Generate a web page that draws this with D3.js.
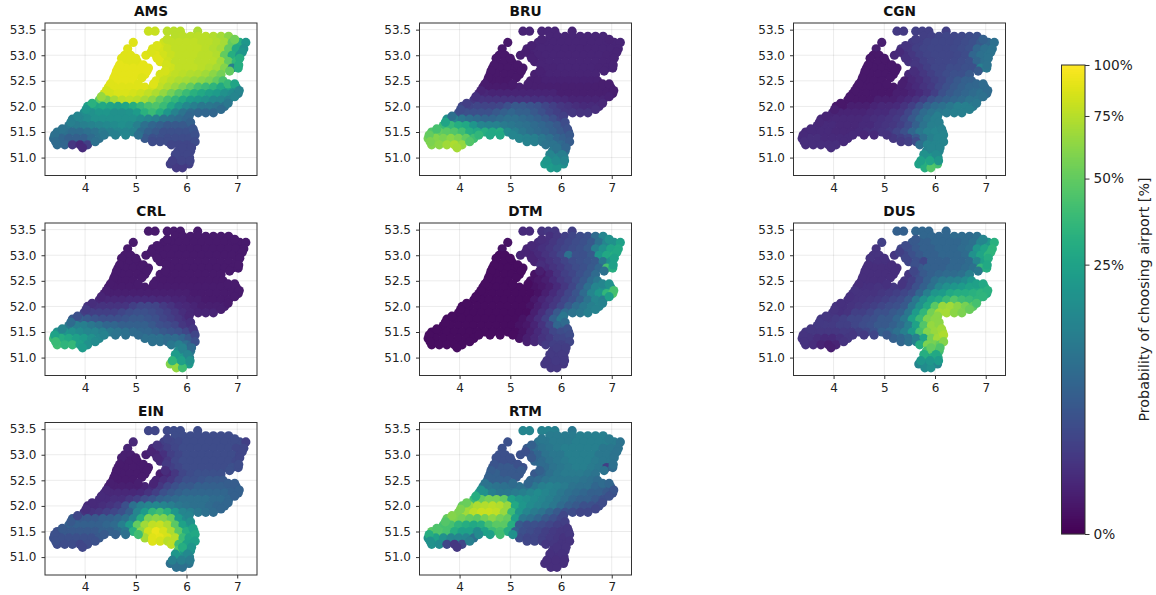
<!DOCTYPE html>
<html>
<head>
<meta charset="utf-8">
<script src="https://cdn.jsdelivr.net/npm/d3@7"></script>
<style>
  body { margin: 0; background: #fff; }
  text { font-family: "DejaVu Sans", sans-serif; }
</style>
</head>
<body>
<div id="chart"></div>
<script>
// values, one inner list per row of points (north to south)
// the last 20 rows are extra points along the coast and borders
var rowLats = [53.47,53.37,53.25,53.125,53.0,52.875,52.75,52.625,52.5,52.375,52.25,52.125,52.0,51.875,51.75,51.625,51.5,51.375,51.31,51.25,51.125,51.0,50.875,50.8,
  53.31,53.19,53.06,52.94,52.81,52.69,52.56,52.44,52.31,52.19,52.06,51.94,51.81,51.69,51.56,51.44,51.31,51.19,51.06,50.94];

var rowLons = [
  [5.25,5.38,5.62,5.75,5.88,6.22],
  [5.78,5.93,6.08,6.23,6.38,6.53,6.68,6.83],
  [4.95,5.55,5.7,5.85,6.0,6.15,6.3,6.45,6.6,6.75,6.9,7.05,7.17],
  [4.84,5.33,5.48,5.63,5.78,5.93,6.08,6.23,6.38,6.53,6.68,6.83,6.98,7.13],
  [4.78,4.9,5.2,5.4,5.55,5.7,5.85,6.0,6.15,6.3,6.45,6.6,6.75,6.9,7.05],
  [4.73,4.88,5.03,5.48,5.63,5.78,5.93,6.08,6.23,6.38,6.53,6.68,6.83,6.98],
  [4.65,4.8,4.95,5.1,5.25,5.7,5.85,6.0,6.15,6.3,6.45,6.6,6.75,6.9,7.02],
  [4.6,4.73,4.88,5.03,5.18,5.48,5.63,5.78,5.93,6.08,6.23,6.38,6.53,6.68],
  [4.55,4.65,4.8,4.95,5.4,5.55,5.7,5.85,6.0,6.15,6.3,6.45,6.6,6.72],
  [4.46,4.58,4.73,4.88,5.03,5.18,5.33,5.48,5.63,5.78,5.93,6.08,6.23,6.38,6.53,6.68,6.83,6.98],
  [4.38,4.5,4.65,4.8,4.95,5.1,5.25,5.4,5.55,5.7,5.85,6.0,6.15,6.3,6.45,6.6,6.75,6.9,7.02],
  [4.28,4.43,4.58,4.73,4.88,5.03,5.18,5.33,5.48,5.63,5.78,5.93,6.08,6.23,6.38,6.53,6.68,6.83],
  [4.05,4.2,4.35,4.5,4.65,4.8,4.95,5.1,5.25,5.4,5.55,5.7,5.85,6.0,6.15,6.3,6.45,6.6,6.75],
  [3.98,4.13,4.28,4.43,4.58,4.73,4.88,5.03,5.18,5.33,5.48,5.63,5.78,5.93,6.08,6.23,6.38,6.53],
  [3.75,3.9,4.05,4.2,4.35,4.5,4.65,4.8,4.95,5.1,5.25,5.4,5.55,5.7,5.85,6.0],
  [3.68,3.83,3.98,4.13,4.28,4.43,4.58,4.73,4.88,5.03,5.18,5.33,5.48,5.63,5.78,5.93,6.08],
  [3.45,3.6,3.75,3.9,4.05,4.2,4.35,4.5,4.65,4.8,4.95,5.1,5.25,5.4,5.55,5.7,5.85,6.0,6.15],
  [3.38,3.53,3.68,3.83,3.98,4.13,4.28,5.18,5.33,5.48,5.63,5.78,5.93,6.05],
  [5.33,5.48,5.63],
  [3.45,3.6,3.75,3.9,4.05,5.7,5.85,6.0,6.1],
  [5.83,5.95,6.08],
  [5.83,5.95,6.06],
  [5.68,5.82,5.95,6.05],
  [5.8,5.92],
  [5.62,6.95],
  [5.42],
  [5.3,7.1],
  [4.72,5.0,5.42,7.05],
  [4.68,5.15,5.6,7.03],
  [4.62,5.22,5.58,6.85],
  [4.57,5.12],
  [4.5,5.05,5.35,6.82,6.95],
  [4.42,7.04],
  [4.32,6.95],
  [4.14,6.82],
  [4.02,6.68],
  [3.85,6.05],
  [3.72,6.08],
  [3.55,6.13],
  [3.4,4.38,4.6,4.8,5.05,6.17],
  [3.42,4.2,6.17],
  [3.95,5.92,6.1],
  [5.78,6.02],
  [5.72,5.9,6.07]
];

var ams = [
  [80,80,75,75,75,72],
  [75,76,76,76,76,74,70,62],
  [88,82,78,78,78,78,76,76,74,70,50,30,20],
  [88,86,85,80,78,78,78,78,76,74,70,50,28,18],
  [88,88,88,88,84,80,78,78,78,76,76,74,50,30,20],
  [88,88,88,88,82,78,78,78,76,76,75,68,50,35],
  [90,90,90,90,90,82,78,78,78,76,74,70,60,12,30],
  [90,90,90,90,90,85,80,78,76,74,72,68,62,55],
  [90,90,90,90,86,80,76,72,70,66,62,58,50,42],
  [86,88,88,88,88,88,84,78,72,66,58,50,42,38,34,28,24,18],
  [80,84,86,86,85,82,78,72,64,55,46,38,32,28,24,22,18,16,12],
  [50,58,70,76,78,75,70,62,50,42,35,28,22,20,18,15,14,12],
  [24,26,28,26,24,26,30,36,42,44,38,28,20,15,12,10,10,9,8],
  [16,18,20,20,18,18,19,22,32,38,30,20,13,9,7,6,6,6],
  [12,14,16,18,18,18,18,18,18,16,14,12,9,8,7,6],
  [10,11,12,13,14,15,16,17,16,12,8,6,5,4,4,4,4],
  [9,8,7,7,8,9,11,12,14,14,13,7,5,4,3,3,3,3,3],
  [7,6,5,5,5,7,9,4,3,3,2.5,2.5,2.5,2.5],
  [2.5,2.5,2.5],
  [7,6,1,0.5,1.5,2,2,2,2],
  [2,2,2],
  [2,2,2],
  [1.5,1.5,1.5,1.5],
  [1.2,1.2],
  [78,55],
  [86],
  [86,20],
  [88,88,88,30],
  [90,90,84,30],
  [90,90,85,50],
  [90,88],
  [88,88,88,36,26],
  [84,14],
  [65,14],
  [32,10],
  [20,7],
  [14,6],
  [12,5],
  [9,3.5],
  [8,10,12,14,8,3],
  [7,8,2.5],
  [.5,2,2],
  [2,2],
  [1.5,1.8,1.8]
];

var bru = [
  [.3,.3,.35,.35,.35,.3],
  [.35,.35,.35,.35,.35,.35,.35,.35],
  [.1,.35,.35,.35,.35,.35,.35,.35,.35,.35,.35,.35,.35],
  [.1,.25,.3,.35,.35,.35,.35,.35,.35,.35,.35,.35,.35,.35],
  [.1,.1,.2,.25,.3,.35,.35,.35,.35,.35,.35,.35,.35,.3,.3],
  [.1,.1,.1,.25,.3,.35,.35,.35,.35,.35,.35,.35,.3,.3],
  [.1,.1,.1,.1,.1,.3,.3,.35,.35,.35,.35,.35,.3,.3,.3],
  [.1,.1,.1,.1,.1,.2,.25,.3,.3,.3,.3,.3,.3,.3],
  [.1,.1,.1,.1,.2,.2,.25,.25,.25,.25,.25,.25,.25,.25],
  [.2,.15,.15,.15,.15,.2,.2,.2,.2,.2,.2,.2,.2,.2,.2,.2,.2,.2],
  [.5,.4,.3,.3,.3,.3,.3,.3,.3,.3,.3,.2,.2,.2,.2,.2,.2,.2,.2],
  [1,.9,.8,.8,.8,.8,.8,.8,.7,.7,.6,.5,.4,.3,.3,.3,.3,.3],
  [1.8,1.8,2,1.8,1.8,2,3,4,4,3.5,3,2,1.5,1,.8,.6,.5,.5,.5],
  [3,3,3,3,3,4,5,6,5,5,4,3,2,1.5,1,1,.8,.8],
  [18,14,10,8,7,6,6,7,8,8,7,6,5,4,3,2],
  [38,36,30,28,20,14,13,13,11,10,9,8,7,6,5,4,3],
  [45,50,48,45,40,30,28,30,28,30,16,12,10,8,7,6,5,4,3.5],
  [55,60,58,62,58,50,40,14,13,12,10,8,6,5],
  [13,12,10],
  [60,62,68,72,65,9,9,7,6],
  [10,9,8],
  [18,14,12],
  [22,20,18,17],
  [22,20],
  [.3,.3],
  [.25],
  [.2,.3],
  [.1,.1,.25,.3],
  [.1,.1,.3,.3],
  [.1,.1,.25,.3],
  [.1,.1],
  [.15,.15,.2,.2,.2],
  [.3,.2],
  [.7,.25],
  [1.4,.4],
  [2.5,.6],
  [8,1.5],
  [26,2.5],
  [42,3],
  [50,35,28,28,14,4],
  [58,45,4.5],
  [70,9,6],
  [14,12],
  [20,16,14]
];

var cgn = [
  [1.2,1.2,1.5,1.5,1.5,1.5],
  [1.5,1.6,1.8,2,2,2.2,2.5,3],
  [.2,1.2,1.5,1.8,2,2,2,2.2,2.5,3,4,6,8],
  [.2,.8,1,1.5,1.8,2,2,2,2.2,2.5,3,6,8,9],
  [.1,.1,.4,.7,1,1.5,1.8,2,2,2,2.2,2.5,6,8,9],
  [.1,.1,.1,.8,1,1.5,1.8,2,2,2.2,2.5,3,6,8],
  [.1,.1,.1,.1,.1,1,1.5,2,2,2.5,2.5,3,3,12,10],
  [.1,.1,.1,.1,.1,.4,.6,1,1.5,2,2.5,3,3,4],
  [.1,.1,.1,.1,.2,.4,.6,1,1.5,2,3,4,5,5],
  [.1,.1,.1,.1,.1,.1,.2,.3,.5,.8,1.2,2,3,4,5,6,7,7],
  [.1,.1,.1,.1,.1,.1,.2,.2,.3,.5,.8,1.5,3,4,5,6,7,8,7],
  [.1,.1,.1,.1,.2,.2,.2,.3,.5,.8,1.5,3,4,5,6,7,9,9],
  [.1,.1,.2,.2,.2,.3,.4,.4,.5,.8,1.5,3,5,7,8,10,12,12,11],
  [.3,.3,.3,.3,.3,.4,.5,.5,.8,1,2,4,7,9,10,11,12,12],
  [.4,.4,.4,.4,.4,.4,.5,.6,.7,.9,1.2,2,4,7,10,12],
  [.5,.5,.5,.4,.4,.4,.5,.5,.7,.9,1,1.5,2.5,5,9,12,13],
  [.5,.5,.5,.5,.4,.4,.4,.5,.6,.7,.9,1.2,1.8,3,6,10,13,14,14],
  [.6,.6,.6,.5,.5,.5,.5,1,1.5,2,4,8,12,14],
  [1.2,1.5,2.5],
  [.6,.6,.6,.6,.6,8,14,14,14],
  [13,15,14],
  [22,20,18],
  [25,34,45,41],
  [30,45],
  [1.3,5],
  [.9],
  [.5,9],
  [.1,.1,.7,9],
  [.1,.1,1,9],
  [.1,.1,.6,4],
  [.1,.1],
  [.1,.1,.2,6,7],
  [.1,7],
  [.1,8],
  [.1,10],
  [.2,12],
  [.3,12],
  [.4,12],
  [.5,13],
  [.5,.5,.4,.5,.8,14],
  [.6,.5,14],
  [.6,14,14],
  [18,16],
  [24,26,20]
];

var crl = [
  [.12,.12,.12,.12,.12,.12],
  [.12,.12,.12,.12,.12,.12,.12,.12],
  [.12,.12,.12,.12,.12,.12,.12,.12,.12,.12,.12,.12,.12],
  [.12,.12,.12,.12,.12,.12,.12,.12,.12,.12,.12,.12,.12,.12],
  [.12,.12,.12,.12,.12,.12,.12,.12,.12,.12,.12,.12,.12,.12,.12],
  [.12,.12,.12,.12,.12,.12,.12,.12,.12,.12,.12,.12,.12,.12],
  [.12,.12,.12,.12,.12,.12,.12,.12,.12,.12,.12,.12,.12,.12,.12],
  [.12,.12,.12,.12,.12,.12,.12,.12,.12,.12,.12,.12,.12,.12],
  [.12,.12,.12,.12,.12,.12,.12,.12,.12,.12,.12,.12,.12,.12],
  [.15,.15,.15,.15,.15,.15,.15,.15,.15,.15,.15,.15,.15,.15,.15,.15,.15,.15],
  [.2,.2,.2,.2,.2,.2,.2,.2,.2,.2,.2,.2,.15,.15,.15,.15,.15,.15,.15],
  [.4,.4,.4,.4,.5,.5,.5,.5,.4,.4,.3,.3,.2,.2,.15,.15,.15,.15],
  [.8,.8,.8,.8,.8,.9,1.5,2,2,1.8,1.2,.8,.5,.4,.3,.2,.2,.2,.2],
  [1.5,1.5,1.5,1.5,1.5,2,2.5,3,3,2.5,2,1.5,1,.6,.4,.3,.3,.3],
  [4,5,4,3.5,3,3,3,3.5,4,4,3.5,3,2,1.5,1,.7],
  [10,12,12,10,8,6,6,5,5,5,5,4,3,2.5,2,1,.8],
  [18,20,18,16,14,14,12,10,9,8,7,6,6,5,4,3.5,3,2,1.5],
  [38,30,28,24,22,18,15,8,8,8,7,7,6,4],
  [8,8,7],
  [40,34,36,24,18,10,12,8,6],
  [16,14,10],
  [28,20,12],
  [60,40,24,22],
  [65,40],
  [.12,.12],
  [.12],
  [.12,.12],
  [.12,.12,.12,.12],
  [.12,.12,.12,.12],
  [.12,.12,.12,.12],
  [.12,.12],
  [.15,.15,.15,.15,.15],
  [.2,.15],
  [.3,.15],
  [.6,.15],
  [1.2,.2],
  [3,.4],
  [7,.7],
  [14,1],
  [25,13,9,8,7,2],
  [38,16,3],
  [22,13,7],
  [22,14],
  [34,24,18]
];

var dtm = [
  [.5,.5,.8,1,1,1.5],
  [.7,1,1.5,2,2.5,3,7,14],
  [.05,.5,.7,1,1.5,2,2.5,3,4,8,14,18,24],
  [.05,.3,.5,.7,1,1.5,2,2.5,3,4,12,18,26,28],
  [.02,.02,.3,.3,.5,.8,1.2,2,8,3,3,4,20,28,30],
  [.02,.02,.02,.3,.5,.8,1.2,1.8,2.5,3,3.5,4,10,18],
  [.02,.02,.02,.02,.02,.5,.8,1.2,1.8,2.5,3,4,6,42,30],
  [.02,.02,.02,.02,.02,.05,.1,.3,.8,1.5,2,3,4,7],
  [.02,.02,.02,.02,.05,.1,.2,.5,1,1.5,2.5,4,7,10],
  [.02,.02,.02,.02,.02,.02,.02,.05,.1,.2,.5,1,2,4,8,14,18,20],
  [.02,.02,.02,.02,.02,.02,.02,.02,.05,.2,.5,1,2,3.5,7,14,20,35,45],
  [.02,.02,.02,.02,.02,.02,.02,.02,.1,.3,.6,1,2,3,5,9,14,12],
  [.02,.02,.02,.02,.02,.02,.02,.02,.02,.05,.2,.5,1,2,4,7,10,12,14],
  [.02,.02,.02,.02,.02,.02,.02,.02,.02,.02,.2,.6,1.5,4,7,9,10,12],
  [.02,.02,.02,.02,.02,.02,.02,.02,.02,.02,.05,.2,.6,1.5,5,10],
  [.02,.02,.02,.02,.02,.02,.02,.02,.02,.02,.05,.1,.3,.8,2,6,5],
  [.02,.02,.02,.02,.02,.02,.02,.02,.02,.02,.02,.02,.05,.2,.5,1,2,2.5,2.5],
  [.02,.02,.02,.02,.02,.02,.02,.05,.2,.4,.8,1.2,1.8,2],
  [.2,.4,.8],
  [.02,.02,.02,.02,.02,1.2,1.5,1.5,1.5],
  [1.2,1.2,1.2],
  [1.2,1.2,1.2],
  [1,1,1,1],
  [1,1],
  [.6,18],
  [.4],
  [.3,28],
  [.02,.02,.3,25],
  [.02,.02,.6,24],
  [.02,.02,.2,8],
  [.02,.02],
  [.02,.02,.02,14,18],
  [.02,42],
  [.02,24],
  [.02,13],
  [.02,13],
  [.02,10],
  [.02,7],
  [.02,3],
  [.02,.02,.02,.02,.02,2.5],
  [.02,.02,2],
  [.02,1.3,1.3],
  [1.2,1.2],
  [1,1.1,1.1]
];

var dus = [
  [5,5,6,6,6,6],
  [6,6,6,6,7,7,7,8],
  [1.5,4,5,5,6,6,6,6,7,8,14,20,32],
  [.8,2,3,4,5,5,6,6,6,7,8,20,26,34],
  [.8,.8,1,2,3,4,5,5,6,6,6,7,18,26,34],
  [.7,.7,.7,2,3,2,5,5,5,6,6,7,14,24],
  [.6,.6,.6,.6,.6,4,5,5,5,6,6,7,8,35,30],
  [.6,.6,.6,.6,.6,1,2.5,4,5,6,7,7,8,12],
  [.6,.6,.6,.6,1,1.5,3,5,8,11,12,13,16,20],
  [.7,.7,.7,.8,.8,1,1,1.5,3,5,8,14,18,20,22,25,28,32],
  [.8,.8,.8,.8,1,1.2,1.5,2,3,6,12,20,22,28,30,30,32,34,30],
  [.7,.8,.9,1,1.2,1.5,2,2.5,4,10,18,26,30,38,45,40,38,34],
  [.8,.7,.8,1,1.2,1.5,2,2.5,3,4,10,18,28,48,66,68,62,56,48],
  [.9,.7,.8,1.5,1.5,2,3,3,4,5,10,22,35,55,70,70,62,58],
  [1,1,1.2,1.5,2,2,2.5,3,4,4,6,10,24,38,58,62],
  [1.2,1.2,1.2,1.5,1.5,2,2.5,3,4,4,5,7,12,25,45,65,62],
  [1,1,1,1,1,1.2,1.2,1.5,2,3,5,6,8,12,22,42,60,66,72],
  [.8,.8,.6,.5,.5,.7,1,5,6,8,12,26,55,68],
  [6,8,12],
  [.8,.6,.3,.2,.3,30,58,56,50],
  [40,48,40],
  [26,30,30],
  [14,16,18,14],
  [16,18],
  [4,14],
  [2.5],
  [1.5,34],
  [.8,.7,2,30],
  [.6,.6,3,28],
  [.6,.6,2,10],
  [.6,.6],
  [.6,.7,.9,24,28],
  [.8,32],
  [.7,34],
  [.7,42],
  [.8,52],
  [1,62],
  [1.1,62],
  [1,68],
  [.9,1,1.2,2,4,72],
  [.8,.8,60],
  [.2,50,44],
  [30,28],
  [20,20,22]
];

var ein = [
  [2,2,2.2,2.5,2.5,2.5],
  [2.5,2.5,2.5,2.5,2.5,2.5,2.5,2.5],
  [.4,1.5,2,2.2,2.5,2.5,2.5,2.5,2.5,2.5,2.5,2.5,1.5],
  [.3,.5,1,1.5,2,2.5,2.5,2.5,2.5,2.5,2.5,2.5,2,2],
  [.2,.2,.2,.3,.7,1.5,2,2.5,2.5,2.5,2.5,2.5,2.5,2.5,2],
  [.15,.15,.15,.5,1,2,2.5,2.5,2.5,2.5,2.5,2.5,2.5,2.2],
  [.15,.15,.15,.15,.15,1.5,2,2.5,2.5,2.5,2.5,2.5,2.5,3,2.5],
  [.15,.15,.15,.15,.15,.2,.4,1,2,2.5,3,3,3,3],
  [.15,.15,.15,.15,.3,.6,1,2,3,3,3.5,4,4,4],
  [.2,.2,.2,.2,.2,.3,.5,1,2,3,4,4,5,5,5,5,5,4.5],
  [.5,.4,.4,.4,.4,.5,.8,1.5,3,4,5,6,6,6,6,6,6,5,5],
  [.5,.5,.6,.6,1,1.5,2.5,3.5,5,6,7,8,8,8,8,7,7,6],
  [.5,.5,.6,.8,1.2,3,8,12,14,15,14,12,10,9,8,8,7,6,6],
  [.8,.8,1,1.5,2,3,5,14,22,35,40,32,20,14,12,10,8,7],
  [4,4,4,4,5,5,6,8,14,30,58,62,60,52,22,16],
  [5,5,5,5,5,6,7,12,22,50,68,78,80,72,48,25,22],
  [3,4,4,4,4,4,5,5,7,10,32,62,82,92,85,72,48,30,28],
  [3,3,3,3,3,3,4,70,88,90,85,75,38,26],
  [88,85,75],
  [2.5,2.5,2.5,2,2.5,78,40,25,24],
  [45,22,18],
  [22,18,14],
  [8,8,9,9],
  [8,8],
  [1.8,2.5],
  [.8],
  [.3,2],
  [.2,.15,.4,2],
  [.15,.15,1.2,2.5],
  [.15,.15,.6,3],
  [.15,.15],
  [.2,.2,.3,4.5,4.5],
  [.4,5],
  [.5,5],
  [.5,6],
  [.6,6],
  [2,14],
  [4,18],
  [4,25],
  [3,4,5,8,40,28],
  [3,3,24],
  [2,30,20],
  [20,15],
  [12,12,11]
];

var rtm = [
  [14,14,13,13,12,10],
  [11,11,11,11,12,12,12,12],
  [3,9,10,11,11,11,12,12,12,12,12,11,9],
  [3,4,7,9,10,11,12,12,12,12,12,10,10,9],
  [3,3,3,4,6,9,10,10,12,12,12,12,10,10,9],
  [3,3,3,6,7,9,10,11,12,12,12,11,10,10],
  [4,4,4,4,3,7,9,10,11,12,12,11,10,1.5,7],
  [5,5,4,4,4,4,6,8,10,11,11,11,10,9],
  [6,5,5,5,6,7,9,10,10,10,10,9,8,7],
  [12,10,9,8,8,8,9,10,12,13,12,11,9,8,8,6,5,4],
  [25,18,12,10,10,11,12,14,16,14,12,10,8,7,6,5,5,4,3],
  [38,50,56,56,50,25,20,18,16,14,12,10,8,6,5,5,4,3],
  [50,66,72,74,76,74,66,28,20,16,14,12,10,7,5,4,3,3,2.5],
  [58,68,76,80,80,78,66,38,20,14,11,9,6,4,3,2.5,2,2],
  [50,58,55,50,48,55,62,55,50,24,10,8,6,4,3,2],
  [42,42,34,30,28,30,42,48,48,30,4,3,3,2.5,2,1.5,1.2],
  [48,45,42,30,24,24,16,25,38,42,30,5,3,2.5,2,1.5,1.2,1,1],
  [18,24,18,14,14,14,8,2.5,2,2,1.5,1.2,1,.8],
  [2,2,1.5],
  [18,16,2,1,2,1,1,.8,.8],
  [.8,.8,.8],
  [.7,.7,.7],
  [.6,.6,.6,.6],
  [.6,.6],
  [10,11],
  [5],
  [3,9],
  [3,3,4,9],
  [3.5,3,7,8],
  [4.5,4,5,9],
  [5,4],
  [9,7,6,7,6],
  [18,3.5],
  [30,3],
  [52,2.5],
  [58,2],
  [60,2],
  [46,1.5],
  [44,1],
  [30,16,24,40,18,1],
  [18,12,.8],
  [1,.8,.8],
  [.7,.7],
  [.6,.6,.6]
];

var airports = ["AMS","BRU","CGN","CRL","DTM","DUS","EIN","RTM"];
var airportValues = [ams,bru,cgn,crl,dtm,dus,ein,rtm];
var xTicks = [4,5,6,7];
var yTicks = [51,51.5,52,52.5,53,53.5];
var barTicks = [0,25,50,75,100];

var svgWidth = 1156;
var svgHeight = 595;

// panel corners
var panelLeft = [45,419.5,793.5];
var panelTop = [23,223,422.5];
var panelWidth = 212;
var panelHeight = 152.5;
var dotRadius = 4.6;

var svg = d3.select("#chart")
  .append("svg")
  .attr("width", svgWidth)
  .attr("height", svgHeight)
  .style("display", "block");

var xScale = d3.scaleLinear().domain([3.21,7.39]).range([0,panelWidth]);
var yScale = d3.scaleLinear().domain([50.65,53.63]).range([panelHeight,0]);

// colorbar is not linear, gamma 0.4 fits the tick spacing
var powScale = d3.scalePow().exponent(0.4).domain([0,100]).range([0,1]);
var colorOf = function(v) { return d3.interpolateViridis(powScale(v)); };

// flatten the rows into point records
function makePoints(values) {
  var pts = [];
  rowLats.forEach(function(lat, i) {
    if (values[i].length != rowLons[i].length) { console.error("row length", i); }
    rowLons[i].forEach(function(lon, j) {
      pts.push({lon: lon, lat: lat, value: values[i][j]});
    });
  });
  return pts;
}

airports.forEach(function(name, k) {
  var col = k % 3;
  var row = Math.floor(k / 3);
  var g = svg.append("g")
    .attr("transform", `translate(${panelLeft[col]}, ${panelTop[row]})`);

  // faint grid
  g.selectAll(".gx").data(xTicks).enter().append("line")
    .attr("x1", d => xScale(d)).attr("x2", d => xScale(d))
    .attr("y1", 0).attr("y2", panelHeight)
    .attr("stroke", "#000").attr("stroke-opacity", 0.08);
  g.selectAll(".gy").data(yTicks).enter().append("line")
    .attr("y1", d => yScale(d)).attr("y2", d => yScale(d))
    .attr("x1", 0).attr("x2", panelWidth)
    .attr("stroke", "#000").attr("stroke-opacity", 0.08);

  g.selectAll("circle")
    .data(makePoints(airportValues[k]))
    .enter()
    .append("circle")
    .attr("cx", d => xScale(d.lon))
    .attr("cy", d => yScale(d.lat))
    .attr("r", dotRadius)
    .attr("fill", d => colorOf(d.value));

  var bottomAxis = d3.axisBottom(xScale).tickValues(xTicks).tickSize(3.5).tickPadding(4).tickSizeOuter(0).tickFormat(d3.format("d"));
  var leftAxis = d3.axisLeft(yScale).tickValues(yTicks).tickSize(3.5).tickPadding(5).tickSizeOuter(0).tickFormat(d3.format(".1f"));

  var gx = g.append("g").attr("transform", `translate(0, ${panelHeight})`).call(bottomAxis);
  var gy = g.append("g").call(leftAxis);
  gx.selectAll("text").attr("font-size", 12).attr("fill", "#222");
  gy.selectAll("text").attr("font-size", 12).attr("fill", "#222");
  gx.selectAll("line").attr("stroke", "#333");
  gy.selectAll("line").attr("stroke", "#333");
  gx.select(".domain").remove();
  gy.select(".domain").remove();

  g.append("rect")
    .attr("width", panelWidth).attr("height", panelHeight)
    .attr("fill", "none").attr("stroke", "#333").attr("stroke-width", 1);

  g.append("text")
    .attr("x", panelWidth / 2).attr("y", -7)
    .attr("text-anchor", "middle")
    .attr("font-size", 13.7).attr("font-weight", "bold").attr("fill", "#111")
    .text(name);
});

// colorbar
var barX = 1061.5, barW = 23.5, barTop = 65, barBottom = 534;
var barY = d3.scalePow().exponent(0.4).domain([0,100]).range([barBottom,barTop]);
var barG = svg.append("g");
var barSteps = d3.range(barTop, barBottom, 1);
barG.selectAll("rect.step").data(barSteps).enter().append("rect")
  .attr("class", "step")
  .attr("x", barX).attr("width", barW)
  .attr("y", d => d).attr("height", 1.2)
  .attr("fill", d => colorOf(barY.invert(Math.min(d + 0.5, barBottom))));
barG.append("rect")
  .attr("x", barX).attr("y", barTop).attr("width", barW).attr("height", barBottom - barTop)
  .attr("fill", "none").attr("stroke", "#333").attr("stroke-width", 1);

var barAxis = d3.axisRight(barY).tickValues(barTicks).tickSize(4.5).tickPadding(4).tickSizeOuter(0).tickFormat(d => d + "%");
var barAxisG = svg.append("g").attr("transform", `translate(${barX + barW}, 0)`).call(barAxis);
barAxisG.select(".domain").remove();
barAxisG.selectAll("line").attr("stroke", "#333");
barAxisG.selectAll("text").attr("font-size", 13.7).attr("fill", "#222");

svg.append("text")
  .attr("transform", "translate(1149, 299.5) rotate(-90)")
  .attr("text-anchor", "middle")
  .attr("font-size", 14.3).attr("fill", "#222")
  .text("Probability of choosing airport [%]");
</script>
</body>
</html>
